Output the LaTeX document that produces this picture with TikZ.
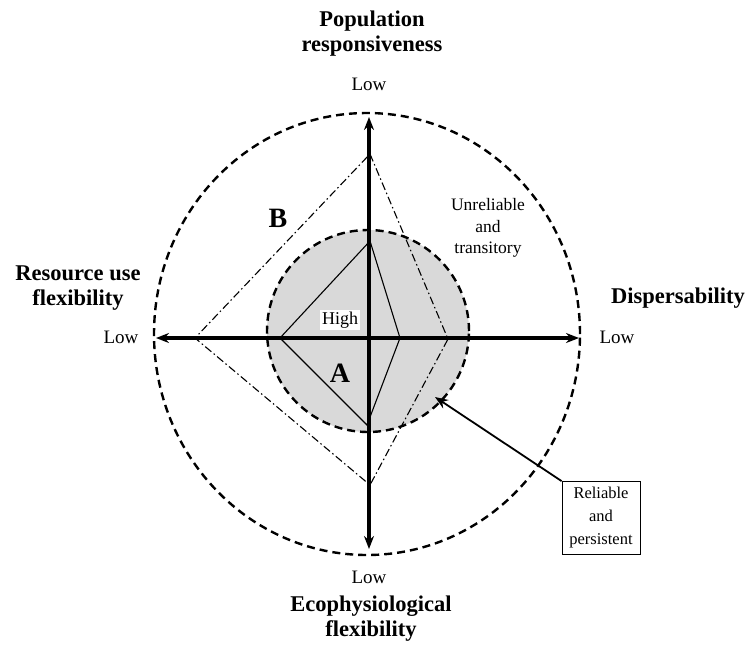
\documentclass[tikz,border=0pt]{standalone}
\usepackage{fontspec}
\setmainfont{Liberation Serif}
\usetikzlibrary{arrows.meta}
\begin{document}
\begin{tikzpicture}[x=1pt,y=-1pt,
  title/.style={font=\fontsize{22.5}{25}\selectfont\bfseries, align=center, inner sep=0pt},
  lowlbl/.style={font=\fontsize{19}{22}\selectfont, inner sep=0pt},
  axisline/.style={line width=3.6pt, -{Stealth[length=13pt,width=10pt]}},
  zonecirc/.style={dashed, line width=2.4pt, dash pattern=on 8pt off 5pt},
  polyA/.style={line width=1.1pt, line join=miter},
  polyB/.style={line width=1.1pt, dash pattern=on 8pt off 3pt on 1.5pt off 3pt},
  smalltext/.style={font=\fontsize{17.5}{21.5}\selectfont, align=center, inner sep=0pt},
  biglet/.style={font=\fontsize{28}{30}\selectfont\bfseries, inner sep=0pt}]
\useasboundingbox (0,0) rectangle (751,653);
% zones
\fill[gray!30] (368,331) circle [radius=101pt];
\draw[zonecirc] (368,331) circle [radius=101pt];
\draw[zonecirc] (367,334) ellipse [x radius=213pt, y radius=221pt];
% axes
\coordinate (O) at (369,338);
\coordinate (T) at (369,117);
\coordinate (Bt) at (369,549);
\coordinate (L) at (156,338);
\coordinate (R) at (579,338);
\draw[axisline] (O) -- (T);
\draw[axisline] (O) -- (Bt);
\draw[axisline] (O) -- (L);
\draw[axisline] (O) -- (R);
% polygon A
\coordinate (a1) at (370,241);
\coordinate (a2) at (400,338);
\coordinate (a3) at (367,425);
\coordinate (a4) at (280,338);
\draw[polyA] (a1) -- (a2) -- (a3) -- (a4) -- cycle;
% polygon B
\coordinate (b1) at (370,154);
\coordinate (b2) at (448,339);
\coordinate (b3) at (370,485);
\coordinate (b4) at (195,338);
\draw[polyB] (b1) -- (b2) -- (b3) -- (b4) -- cycle;
% labels
\node[title] (pop) at (372,34) {Population\\responsiveness};
\node[title] (eco) at (371,619) {Ecophysiological\\flexibility};
\node[title] (res) at (78,288) {Resource use\\flexibility};
\node[title] (dis) at (678,298) {Dispersability};
\node[lowlbl] (lowT) at (369,84) {Low};
\node[lowlbl] (lowB) at (369,577) {Low};
\node[lowlbl] (lowL) at (121,337) {Low};
\node[lowlbl] (lowR) at (617,337) {Low};
\node[biglet] (labA) at (340,373) {A};
\node[biglet] (labB) at (278,218) {B};
\node[fill=white, inner sep=2pt, font=\fontsize{18}{20}\selectfont] (high) at (340,320) {High};
\node[smalltext] (unrel) at (488,228) {Unreliable\\and\\transitory};
\node[smalltext, draw, line width=0.8pt, minimum width=78pt, minimum height=73pt, inner sep=3pt, font=\fontsize{16.5}{23}\selectfont] (relbox) at (601,518) {Reliable\\and\\persistent};
\coordinate (tip) at (435,397);
\draw[line width=1.8pt, -{Stealth[length=13pt,width=10pt]}] (relbox.north west) -- (tip);
\end{tikzpicture}
\end{document}
